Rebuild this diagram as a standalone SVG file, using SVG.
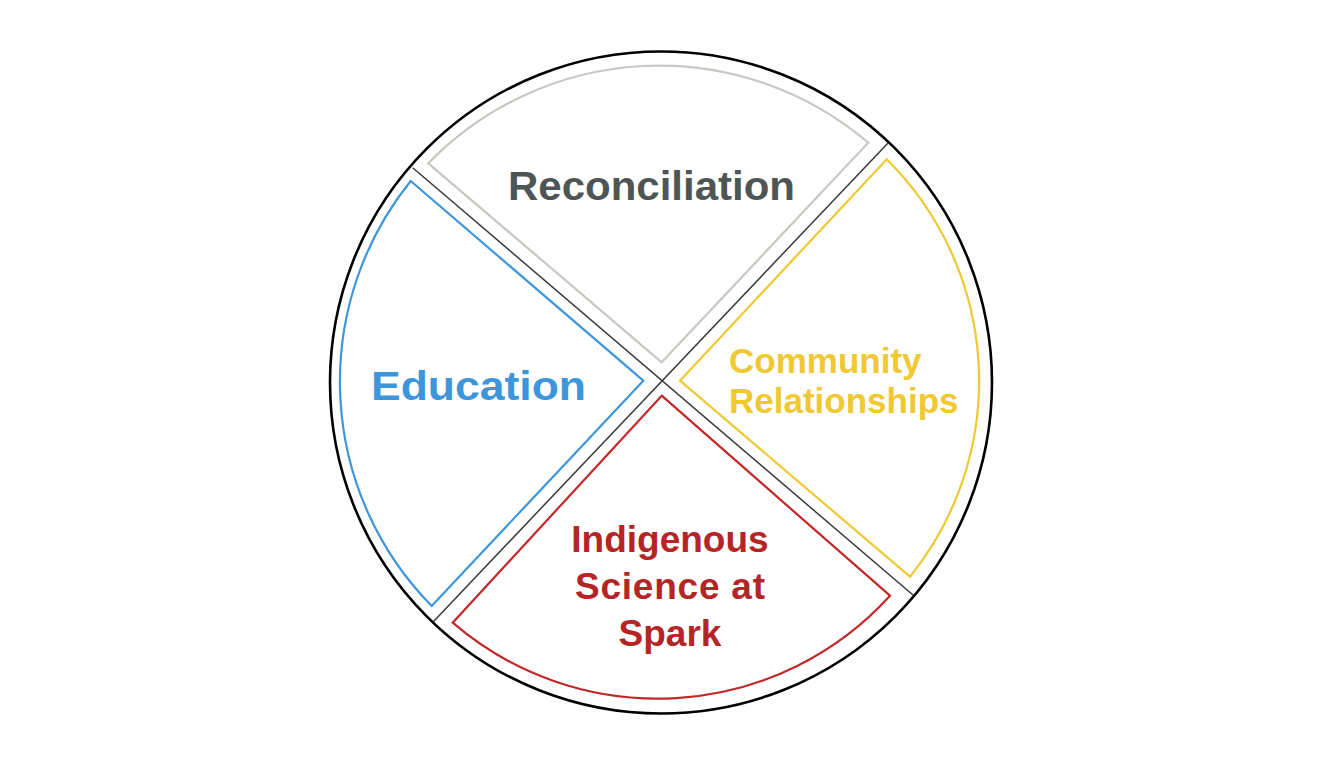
<svg xmlns="http://www.w3.org/2000/svg" width="1320" height="765" viewBox="0 0 1320 765">
<style>
.seg{fill:none;stroke-width:2.2;stroke-linejoin:miter}
.lbl{font-family:"Liberation Sans",Arial,Helvetica,sans-serif;font-weight:bold}
.cross{stroke:#3a3a3a;stroke-width:1.5;fill:none}
</style>
<rect width="1320" height="765" fill="#ffffff"/>
<circle id="wheel" cx="661" cy="382.5" r="331" fill="none" stroke="#000" stroke-width="2.6"/>
<g id="connectors">
<line class="cross" x1="412.7" y1="167.7" x2="913" y2="595"/>
<line class="cross" x1="888.3" y1="142.7" x2="433.3" y2="621.7"/>
</g>
<g id="reconciliation">
<path class="seg" stroke="#c8c7c2" d="M661.7,362.3 L428.3,163.3 A322,322 0 0 1 868.3,142.7 Z"/>
<text class="lbl" x="651.5" y="200" font-size="41" fill="#4d5654" text-anchor="middle" textLength="287" lengthAdjust="spacingAndGlyphs">Reconciliation</text>
</g>
<g id="education">
<path class="seg" stroke="#3d96dc" d="M643.3,380.7 L431.7,606 A320,320 0 0 1 410.7,181 Z"/>
<text class="lbl" x="371" y="400" font-size="41" fill="#3d96dc" textLength="215" lengthAdjust="spacingAndGlyphs">Education</text>
</g>
<g id="community">
<path class="seg" stroke="#f0c832" d="M680,380.7 L886.7,159.3 A312,312 0 0 1 910,576.7 Z"/>
<text class="lbl" font-size="35" fill="#f0c832"><tspan x="729" y="373">Community</tspan><tspan x="729" y="413">Relationships</tspan></text>
</g>
<g id="indigenous">
<path class="seg" stroke="#c0282a" d="M661.7,395.7 L890,595.7 A314,314 0 0 1 452.7,622.7 Z"/>
<text class="lbl" font-size="37" fill="#b52526" text-anchor="middle"><tspan x="670" y="552">Indigenous</tspan><tspan x="670" y="599" textLength="190">Science at</tspan><tspan x="670" y="646">Spark</tspan></text>
</g>
</svg>
